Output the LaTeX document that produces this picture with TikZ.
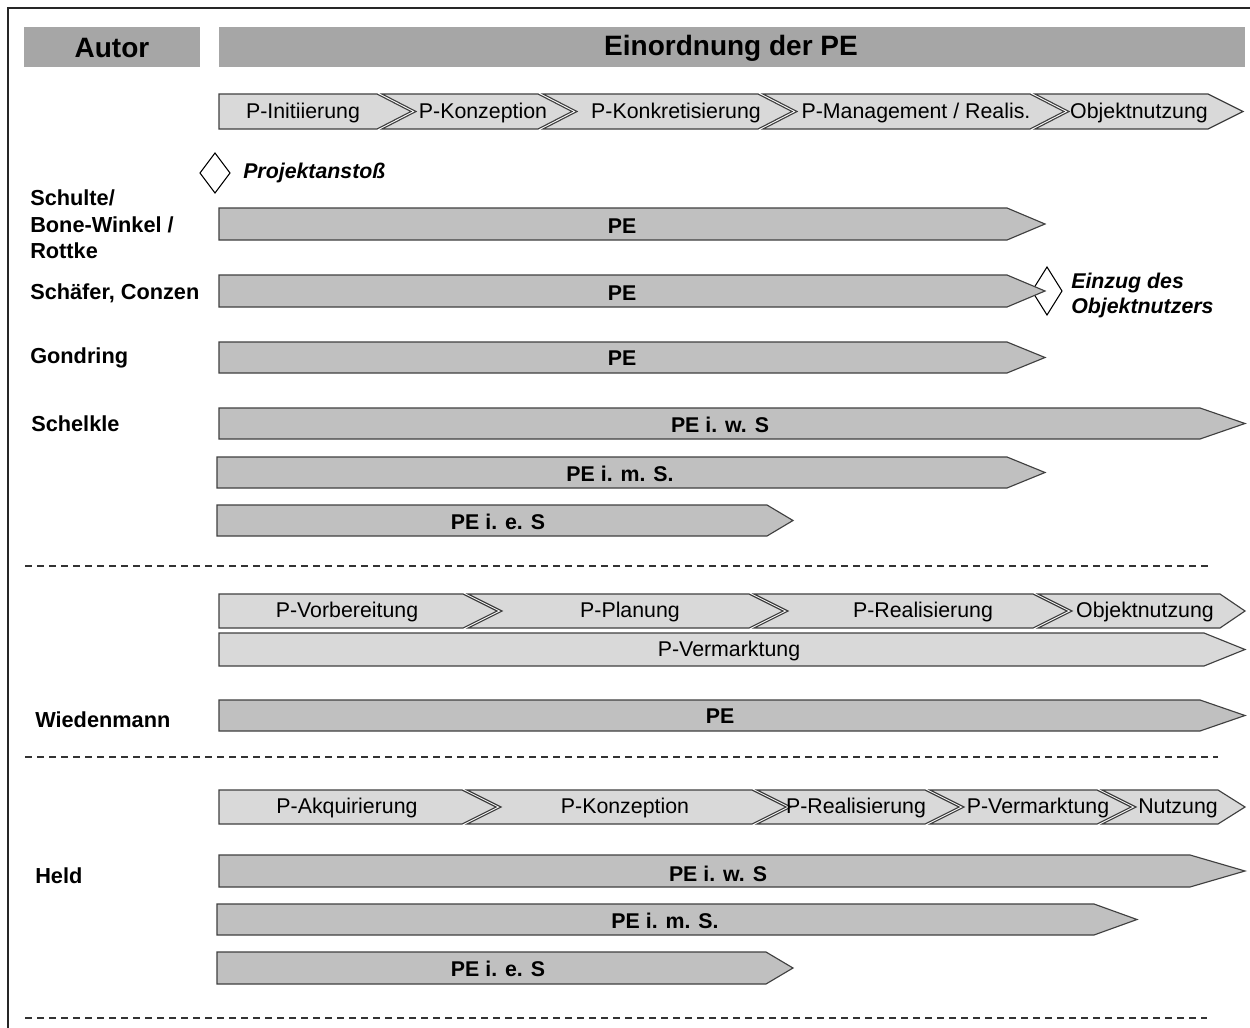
\documentclass[tikz,border=0pt]{standalone}
\usepackage{fontspec}
\setmainfont{Liberation Sans}
\definecolor{headgray}{HTML}{A6A6A6}
\definecolor{bargray}{HTML}{C0C0C0}
\definecolor{phasegray}{HTML}{D9D9D9}
\definecolor{edgegray}{HTML}{404040}

% first phase / bar: flat left edge  [style]{x left}{x top-right}{x tip}{y top}{y bottom}
\newcommand\flatseg[6][phase]{%
  \path[#1] (#2,#5) -- (#3,#5) -- (#4,{(#5+#6)/2}) -- (#3,#6) -- (#2,#6) -- cycle;}
% following phase: notched left edge  [style]{x left}{x notch}{x top-right}{x tip}{y top}{y bottom}
\newcommand\notchseg[7][phase]{%
  \path[#1] (#2,#6) -- (#4,#6) -- (#5,{(#6+#7)/2}) -- (#4,#7) -- (#2,#7) -- (#3,{(#6+#7)/2}) -- cycle;}

\begin{document}
\begin{tikzpicture}[x=0.75pt,y=-0.75pt,
  phase/.style={fill=phasegray,draw=edgegray,line width=0.85pt,line join=miter},
  bar/.style={fill=bargray,draw=edgegray,line width=0.85pt,line join=miter},
  head/.style={fill=headgray,draw=none},
  phasetxt/.style={font=\fontsize{16}{18}\selectfont,inner sep=0pt},
  bartxt/.style={font=\fontsize{16}{18}\selectfont\bfseries,inner sep=0pt},
  headtxt/.style={font=\fontsize{21}{24}\selectfont\bfseries,inner sep=0pt},
  author/.style={font=\fontsize{16.3}{20}\selectfont\bfseries,anchor=west,inner sep=0pt,align=left},
  event/.style={font=\fontsize{16}{18.75}\selectfont\bfseries\itshape,anchor=west,inner sep=0pt,align=left},
  marker/.style={draw=black,fill=white,line width=0.8pt},
  sep/.style={draw=black!80,line width=1.4pt,dash pattern=on 5.25pt off 3.75pt},
  frame/.style={draw=black!85,line width=1.4pt}]

\useasboundingbox (0,0) rectangle (1250,1028);
\fill[white] (0,0) rectangle (1250,1028);

% outer frame
\draw[frame] (1250,8) -- (8,8) -- (8,1028);

% header
\fill[head] (24,27) rectangle (200,67);
\fill[head] (219,27) rectangle (1245,67);
\node[headtxt] (hAutor) at (112,48) {Autor};
\node[headtxt] (hEin) at (731,48) {Einordnung der PE};

% ---- phase model 1 ----
\flatseg{219}{377}{411}{94}{129}
\notchseg{382}{416}{538}{572}{94}{129}
\notchseg{543}{577}{758}{792}{94}{129}
\notchseg{763}{797}{1030}{1064}{94}{129}
\notchseg{1035}{1069}{1208}{1243}{94}{129}
\node[phasetxt] (a1) at (303,113) {P-Initiierung};
\node[phasetxt] (a2) at (483,113) {P-Konzeption};
\node[phasetxt] (a3) at (676,113) {P-Konkretisierung};
\node[phasetxt] (a4) at (916,113) {P-Management / Realis.};
\node[phasetxt] (a5) at (1139,113) {Objektnutzung};

% project start marker
\path[marker] (215,153) -- (230,173) -- (215,193) -- (200,173) -- cycle;
\node[event] (eStart) at (243,173) {Projektanstoß};

% Schulte / Bone-Winkel / Rottke
\node[author] (auSchulte) at (30,224.5) {Schulte/\\Bone-Winkel /\\Rottke};
\flatseg[bar]{219}{1007}{1045}{208}{240}
\node[bartxt] (pe1) at (622,226) {PE};

% Schaefer, Conzen
\node[author] (auSchaefer) at (30,293) {Schäfer, Conzen};
\path[marker] (1047,267) -- (1062,291) -- (1047,315) -- (1032,291) -- cycle;
\flatseg[bar]{219}{1007}{1045}{275}{307}
\node[bartxt] (pe2) at (622,293) {PE};
\node[event] (eEinzug) at (1071,295.5) {Einzug des\\Objektnutzers};

% Gondring
\node[author] (auGondring) at (30,358) {Gondring};
\flatseg[bar]{219}{1007}{1045}{342}{373}
\node[bartxt] (pe3) at (622,358) {PE};

% Schelkle
\node[author] (auSchelkle) at (31,424) {Schelkle};
\flatseg[bar]{219}{1200}{1245}{408}{439}
\node[bartxt] (pe4) at (720,425) {PE i. w. S};
\flatseg[bar]{217}{1007}{1045}{457}{488}
\node[bartxt] (pe5) at (620,474) {PE i. m. S.};
\flatseg[bar]{217}{767}{793}{505}{536}
\node[bartxt] (pe6) at (498,522) {PE i. e. S};

\draw[sep] (25,566) -- (1210,566);

% ---- phase model 2 ----
\flatseg{219}{463}{497}{594}{628}
\notchseg{468}{502}{749}{783}{594}{628}
\notchseg{754}{788}{1033}{1067}{594}{628}
\notchseg{1038}{1072}{1220}{1245}{594}{628}
\node[phasetxt] (b1) at (347,612) {P-Vorbereitung};
\node[phasetxt] (b2) at (630,612) {P-Planung};
\node[phasetxt] (b3) at (923,612) {P-Realisierung};
\node[phasetxt] (b4) at (1145,612) {Objektnutzung};
\flatseg{219}{1204}{1245}{633}{666}
\node[phasetxt] (b5) at (729,650.5) {P-Vermarktung};

% Wiedenmann
\node[author] (auWiedenmann) at (35,720) {Wiedenmann};
\flatseg[bar]{219}{1200}{1245}{700}{731}
\node[bartxt] (pe7) at (720,716.5) {PE};

\draw[sep] (25,757) -- (1218,757);

% ---- phase model 3 ----
\flatseg{219}{462}{496}{790}{824}
\notchseg{467}{501}{752}{786}{790}{824}
\notchseg{757}{791}{925}{959}{790}{824}
\notchseg{930}{964}{1097}{1131}{790}{824}
\notchseg{1102}{1136}{1218}{1245}{790}{824}
\node[phasetxt] (c1) at (347,808) {P-Akquirierung};
\node[phasetxt] (c2) at (625,808) {P-Konzeption};
\node[phasetxt] (c3) at (856,808) {P-Realisierung};
\node[phasetxt] (c4) at (1038,808) {P-Vermarktung};
\node[phasetxt] (c5) at (1178,808) {Nutzung};

% Held
\node[author] (auHeld) at (35,876) {Held};
\flatseg[bar]{219}{1190}{1245}{855}{887}
\node[bartxt] (pe8) at (718,874) {PE i. w. S};
\flatseg[bar]{217}{1094}{1137}{904}{935}
\node[bartxt] (pe9) at (665,920.5) {PE i. m. S.};
\flatseg[bar]{217}{766}{793}{952}{984}
\node[bartxt] (pe10) at (498,969) {PE i. e. S};

\draw[sep] (25,1018) -- (1207,1018);
\end{tikzpicture}
\end{document}
